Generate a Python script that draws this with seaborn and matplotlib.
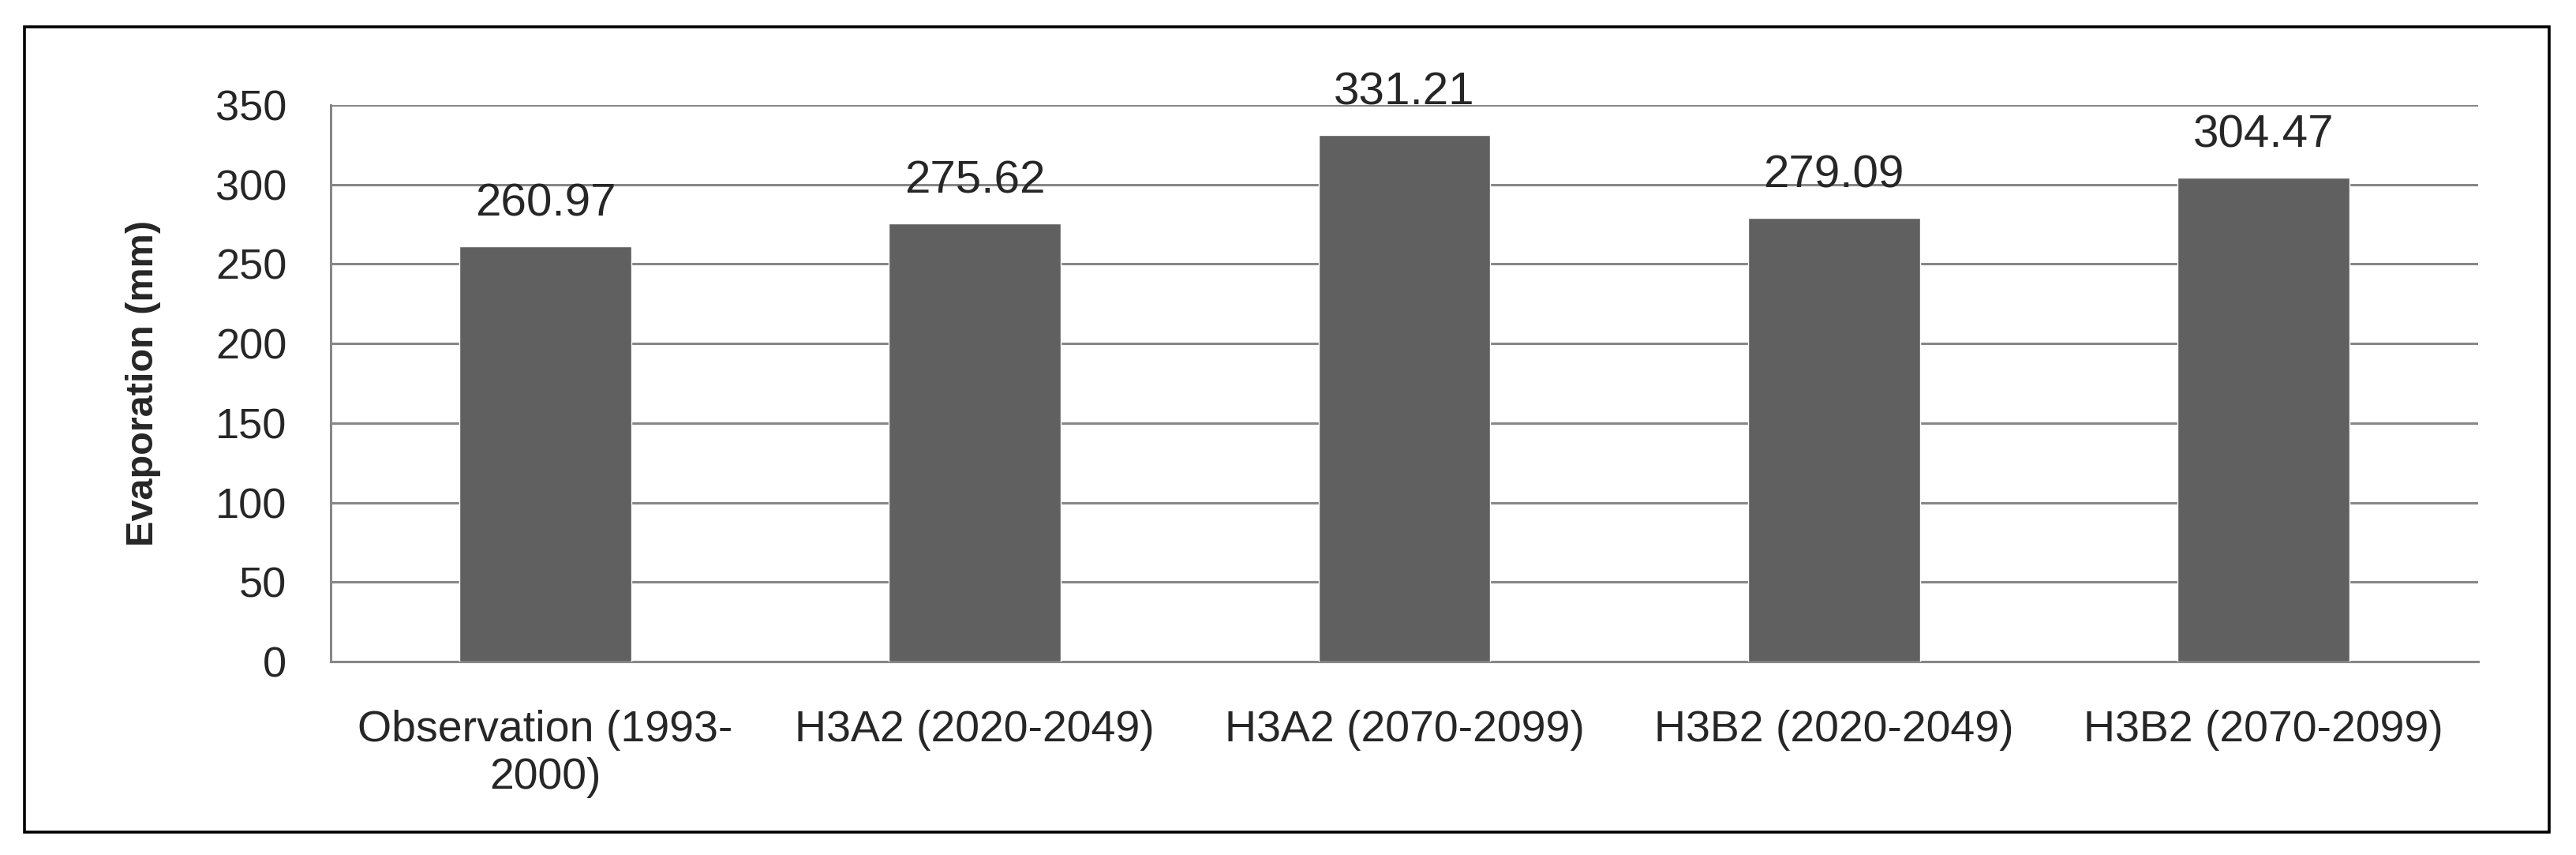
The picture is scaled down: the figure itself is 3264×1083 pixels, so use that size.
import matplotlib
matplotlib.use("Agg")
import matplotlib.pyplot as plt
import seaborn as sns
import pandas as pd
from matplotlib.patches import Rectangle

# data
periods = ["Observation (1993-\n2000)", "H3A2 (2020-2049)", "H3A2 (2070-2099)",
           "H3B2 (2020-2049)", "H3B2 (2070-2099)"]
evaporation = [260.97, 275.62, 331.21, 279.09, 304.47]
y_ticks = [0, 50, 100, 150, 200, 250, 300, 350]

df = pd.DataFrame({"period": periods, "evaporation": evaporation})

sns.set_style("white")
plt.rcParams["font.family"] = ["Liberation Sans", "DejaVu Sans"]

grid_col = "#878787"
bar_col = "#606060"

W, H = 3264, 1083
fig = plt.figure(figsize=(W / 100, H / 100), dpi=100)
# axes box in pixels: left 419, right 3140, top 133, bottom 838
ax = fig.add_axes([419 / W, 1 - 838 / H, (3140 - 419) / W, (838 - 133) / H])

sns.barplot(data=df, x="period", y="evaporation", color=bar_col, saturation=1,
            width=0.4, ax=ax, zorder=3)

ax.set_ylim(0, 350)
ax.set_yticks(y_ticks)
ax.set_xlim(-0.5, len(periods) - 0.5)
ax.yaxis.grid(True, color=grid_col, linewidth=2.2, zorder=0)
ax.set_axisbelow(True)

for s in ["top", "right"]:
    ax.spines[s].set_visible(False)
for s in ["left", "bottom"]:
    ax.spines[s].set_color(grid_col)
    ax.spines[s].set_linewidth(2.2)

ax.tick_params(axis="y", length=14, width=2.2, color=grid_col, labelsize=39, pad=26)
ax.tick_params(axis="x", length=0, labelsize=40, pad=44)

ax.bar_label(ax.containers[0], labels=[f"{v:.2f}" for v in evaporation],
             fontsize=42, padding=19)

ax.set_xlabel("")
ax.set_ylabel("Evaporation (mm)", fontsize=35, fontweight="bold")
ax.yaxis.set_label_coords((204 - 419) / (3140 - 419), 0.5)

# outer chart border
fig.patches.append(Rectangle((31 / W, 1 - 1054 / H), (3230 - 31) / W,
                             (1054 - 34) / H, transform=fig.transFigure,
                             fill=False, edgecolor="black", linewidth=2.6))

fig.savefig("out.png", dpi=100)
